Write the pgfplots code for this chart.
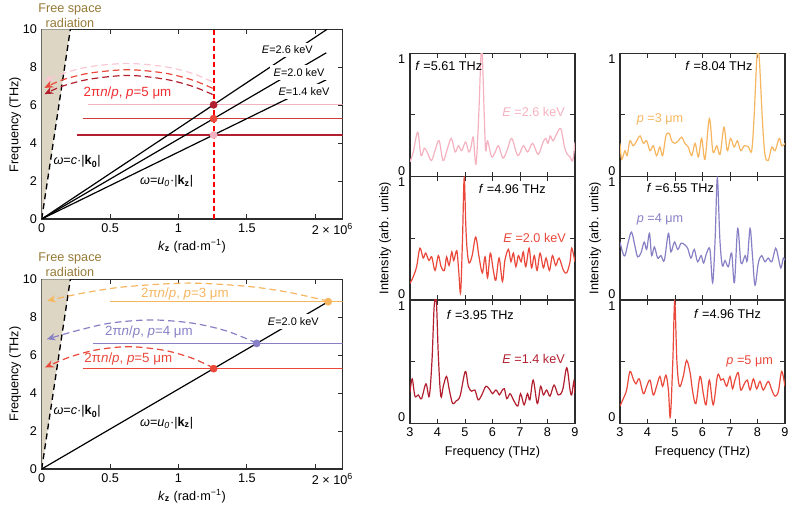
\documentclass[border=0pt]{standalone}
\usepackage{pgfplots}
\pgfplotsset{compat=1.18}
\usepackage{fontspec}
\setmainfont{Liberation Sans}
\usetikzlibrary{arrows.meta}

\definecolor{frame}{RGB}{45,45,45}
\definecolor{tanfill}{RGB}{222,214,197}
\definecolor{olivec}{RGB}{150,122,55}
\definecolor{pinkc}{RGB}{244,178,192}
\definecolor{pinkarc}{RGB}{249,200,210}
\definecolor{redc}{RGB}{234,72,58}
\definecolor{redline}{RGB}{205,62,62}
\definecolor{dredc}{RGB}{178,32,48}
\definecolor{orangec}{RGB}{246,182,96}
\definecolor{purplec}{RGB}{135,128,196}
\definecolor{vertred}{RGB}{240,45,50}

\newcommand{\fs}{\fontsize{9.5}{11.25}\selectfont}
\newcommand{\fe}{\fontsize{8.2}{10}\selectfont}
\newcommand{\fl}{\fontsize{10}{12}\selectfont}

\pgfplotsset{
  base/.style={scale only axis, anchor=south west, tick align=inside, tick pos=both,
    major tick length=3.5pt, axis line style={frame, line width=0.9pt},
    tick style={frame, line width=0.7pt},
    ticklabel style={font=\fs},
    /pgf/number format/assume math mode=true},
  disp/.style={base, width=225.75pt, height=142.275pt,
    xmin=0, xmax=2.2, ymin=0, ymax=10,
    xtick={0,0.5,1,1.5,2},
    xticklabels={0,0.5,1,1.5,{2\rlap{ × 10\textsuperscript{6}}}},
    ytick={0,2,...,10}},
  spec/.style={base, width=123.75pt, height=92.5pt,
    xmin=3, xmax=9, ymin=0, ymax=1, xtick={3,...,9},
    ytick={0,0.5}, yticklabels={0,{}},
    yticklabel style={anchor=south east, inner ysep=0.8pt},
    extra y ticks={1}, extra y tick labels={1},
    extra y tick style={yticklabel style={anchor=north east, inner ysep=0.8pt}}},
  arc/.style={line width=0.9pt, smooth, dash pattern=on 5pt off 3pt,
    -{Stealth[length=6.5pt,width=5.5pt]}},
  hl/.style={line width=0.9pt},
  dot/.style={only marks, mark=*, mark size=2.7pt},
}

\begin{document}
\begin{tikzpicture}
\path[use as bounding box] (0,0) rectangle (600pt,380.25pt);

% ---------------- top left: dispersion, three energies
\begin{axis}[disp, at={(31.275pt,216pt)}]
\addplot[fill=tanfill, draw=none] coordinates {(0,0) (0.2094,10) (0,10)} -- cycle;
\addplot[black, line width=1pt, dash pattern=on 4.5pt off 3pt] coordinates {(0,0) (0.2094,10)};
\addplot[pinkc, hl] coordinates {(0.34,6.02) (2.2,6.02)};
\addplot[redline, hl] coordinates {(0.30,5.29) (2.2,5.29)};
\addplot[dredc, hl] coordinates {(0.256,4.43) (2.2,4.43)};
\addplot[black, hl] coordinates {(0,0) (2.086,10)};
\addplot[black, hl] coordinates {(0,0) (2.08,8.76)};
\addplot[black, hl] coordinates {(0,0) (2.08,7.34)};
\addplot[red, line width=1.4pt, dash pattern=on 3.5pt off 2.5pt] coordinates {(1.2566,0) (1.2566,10)};
\addplot[pinkarc, arc] coordinates {(1.245,7.24) (1.1,7.68) (0.9,8.03) (0.63,8.2) (0.35,8.03) (0.15,7.66) (0.02,7.26)};
\addplot[redc, arc] coordinates {(1.25,6.89) (1.1,7.33) (0.9,7.69) (0.63,7.87) (0.35,7.69) (0.15,7.33) (0.02,6.91)};
\addplot[dredc, arc] coordinates {(1.25,6.56) (1.1,7.0) (0.9,7.37) (0.63,7.57) (0.35,7.37) (0.15,7.0) (0.02,6.58)};
\addplot[dredc, dot] coordinates {(1.2566,6.02)};
\addplot[redc, dot] coordinates {(1.2566,5.29)};
\addplot[pinkc, dot] coordinates {(1.2566,4.43)};
\node[fill=white, inner sep=2.5pt, font=\fe] at (axis cs:1.795,8.91) {\textit{E}=2.6 keV};
\node[fill=white, inner sep=2.5pt, font=\fe] at (axis cs:1.881,7.71) {\textit{E}=2.0 keV};
\node[fill=white, inner sep=2.5pt, font=\fe] at (axis cs:1.917,6.71) {\textit{E}=1.4 keV};
\node[text=vertred, font=\fl] at (axis cs:0.627,6.63) {2π\textit{n}/\textit{p}, \textit{p}=5 μm};
\node[anchor=west, inner sep=0pt, font=\fs] at (axis cs:0.085,3.02) {\textit{ω}=\textit{c}·|\textbf{k}\textsubscript{\textbf{0}}|};
\node[font=\fs] at (axis cs:0.913,1.97) {\textit{ω}=\textit{u}\textsubscript{\textit{0}}·|\textbf{k}\textsubscript{\textbf{z}}|};
\end{axis}

% ---------------- bottom left: dispersion, three periods
\begin{axis}[disp, at={(31.275pt,28.5pt)}]
\addplot[fill=tanfill, draw=none] coordinates {(0,0) (0.2094,10) (0,10)} -- cycle;
\addplot[black, line width=1pt, dash pattern=on 4.5pt off 3pt] coordinates {(0,0) (0.2094,10)};
\addplot[orangec, hl] coordinates {(0.50,8.82) (2.2,8.82)};
\addplot[purplec, hl] coordinates {(0.373,6.62) (2.2,6.62)};
\addplot[redc, hl] coordinates {(0.30,5.29) (2.2,5.29)};
\addplot[black, hl] coordinates {(0,0) (2.094,8.82)};
\addplot[orangec, arc] coordinates {(2.094,8.85) (1.8,9.32) (1.5,9.63) (1.067,9.8) (0.6,9.6) (0.3,9.27) (0.04,8.87)};
\addplot[purplec, arc] coordinates {(1.571,6.64) (1.35,7.28) (1.1,7.69) (0.8,7.86) (0.5,7.69) (0.25,7.28) (0.037,6.84)};
\addplot[redc, arc] coordinates {(1.257,5.32) (1.1,5.84) (0.9,6.25) (0.64,6.45) (0.4,6.28) (0.2,5.89) (0.024,5.35)};
\addplot[orangec, dot] coordinates {(2.094,8.82)};
\addplot[purplec, dot] coordinates {(1.571,6.62)};
\addplot[redc, dot] coordinates {(1.2566,5.29)};
\node[fill=white, inner sep=2.5pt, font=\fe] at (axis cs:1.839,7.77) {\textit{E}=2.0 keV};
\node[text=orangec, font=\fl] at (axis cs:1.047,9.21) {2π\textit{n}/\textit{p}, \textit{p}=3 μm};
\node[text=purplec, font=\fl] at (axis cs:0.784,7.24) {2π\textit{n}/\textit{p}, \textit{p}=4 μm};
\node[text=redc, font=\fl] at (axis cs:0.633,5.78) {2π\textit{n}/\textit{p}, \textit{p}=5 μm};
\node[anchor=west, inner sep=0pt, font=\fs] at (axis cs:0.085,3.02) {\textit{ω}=\textit{c}·|\textbf{k}\textsubscript{\textbf{0}}|};
\node[font=\fs] at (axis cs:0.913,2.41) {\textit{ω}=\textit{u}\textsubscript{\textit{0}}·|\textbf{k}\textsubscript{\textbf{z}}|};
\end{axis}

% ---------------- middle column: spectra for three energies
\begin{axis}[spec, at={(307.5pt,247.8pt)}, xticklabels={}]
\addplot[pinkc, line width=0.9pt, smooth, tension=0.55] coordinates {
(3.00,0.12) (3.12,0.2) (3.28,0.36) (3.40,0.17) (3.52,0.23) (3.62,0.20) (3.78,0.13) (3.92,0.22)
(4.06,0.29) (4.20,0.13) (4.34,0.21) (4.50,0.31) (4.64,0.20) (4.76,0.25) (4.88,0.21) (5.02,0.28)
(5.14,0.20) (5.22,0.24) (5.30,0.32) (5.40,0.10) (5.50,0.50) (5.58,0.98) (5.63,0.98) (5.70,0.50)
(5.75,0.21) (5.82,0.29) (5.97,0.16) (6.10,0.20) (6.22,0.25) (6.38,0.15) (6.54,0.22) (6.70,0.31)
(6.92,0.17) (7.12,0.25) (7.28,0.20) (7.46,0.27) (7.66,0.18) (7.84,0.28) (7.94,0.31) (8.02,0.27)
(8.10,0.33) (8.20,0.29) (8.32,0.34) (8.48,0.39) (8.62,0.24) (8.72,0.18) (8.82,0.16) (8.92,0.13) (9.00,0.28)};
\node[anchor=west, font=\fs] at (axis cs:3.02,0.9) {\textit{f} =5.61 THz};
\node[anchor=east, text=pinkc, font=\fs] at (axis cs:8.8,0.52) {\textit{E} =2.6 keV};
\end{axis}

\begin{axis}[spec, at={(307.5pt,155.25pt)}, xticklabels={}]
\addplot[redc, line width=0.9pt, smooth, tension=0.55] coordinates {
(3.00,0.135) (3.12,0.19) (3.24,0.27) (3.36,0.42) (3.48,0.34) (3.57,0.38) (3.69,0.32) (3.79,0.35)
(3.91,0.24) (4.03,0.36) (4.13,0.27) (4.25,0.24) (4.33,0.35) (4.42,0.28) (4.52,0.39) (4.59,0.32)
(4.70,0.40) (4.77,0.24) (4.84,0.06) (4.91,0.50) (4.97,0.99) (5.03,0.60) (5.08,0.40) (5.15,0.30)
(5.26,0.36) (5.39,0.51) (5.51,0.35) (5.63,0.22) (5.73,0.35) (5.82,0.18) (5.92,0.38) (6.03,0.24)
(6.12,0.16) (6.24,0.34) (6.36,0.15) (6.45,0.32) (6.58,0.41) (6.67,0.31) (6.76,0.38) (6.85,0.27)
(6.94,0.36) (7.04,0.31) (7.12,0.39) (7.21,0.27) (7.33,0.42) (7.42,0.26) (7.52,0.36) (7.62,0.24)
(7.73,0.38) (7.85,0.26) (7.95,0.34) (8.07,0.24) (8.18,0.36) (8.30,0.28) (8.42,0.34) (8.58,0.24)
(8.70,0.22) (8.82,0.31) (8.88,0.42) (9.00,0.31)};
\node[anchor=west, font=\fs] at (axis cs:5.33,0.9) {\textit{f} =4.96 THz};
\node[anchor=east, text=redc, font=\fs] at (axis cs:8.84,0.5) {\textit{E} =2.0 keV};
\end{axis}

\begin{axis}[spec, at={(307.5pt,62.775pt)}]
\addplot[dredc, line width=0.9pt, smooth, tension=0.55] coordinates {
(3.00,0.25) (3.08,0.36) (3.18,0.22) (3.30,0.23) (3.42,0.20) (3.58,0.32) (3.70,0.22) (3.80,0.51)
(3.88,0.95) (3.96,0.98) (4.03,0.55) (4.12,0.22) (4.21,0.30) (4.33,0.38) (4.43,0.27) (4.55,0.16)
(4.67,0.18) (4.82,0.22) (5.01,0.42) (5.12,0.30) (5.24,0.26) (5.36,0.27) (5.48,0.19) (5.61,0.23)
(5.76,0.30) (5.91,0.27) (6.00,0.24) (6.13,0.27) (6.25,0.23) (6.33,0.26) (6.43,0.28) (6.52,0.20)
(6.64,0.24) (6.76,0.19) (6.92,0.14) (7.02,0.24) (7.15,0.15) (7.27,0.24) (7.36,0.19) (7.48,0.35)
(7.63,0.16) (7.75,0.30) (7.85,0.23) (7.97,0.27) (8.09,0.22) (8.24,0.31) (8.39,0.23) (8.55,0.27)
(8.70,0.45) (8.82,0.27) (8.88,0.23) (8.96,0.34) (9.00,0.24)};
\node[anchor=west, font=\fs] at (axis cs:4.17,0.88) {\textit{f} =3.95 THz};
\node[anchor=east, text=dredc, font=\fs] at (axis cs:8.8,0.52) {\textit{E} =1.4 keV};
\end{axis}

% ---------------- right column: spectra for three periods
\begin{axis}[spec, at={(465pt,247.8pt)}, xticklabels={}]
\addplot[orangec, line width=0.9pt, smooth, tension=0.55] coordinates {
(3.00,0.27) (3.06,0.14) (3.18,0.21) (3.26,0.17) (3.36,0.29) (3.48,0.25) (3.61,0.29) (3.73,0.33)
(3.85,0.27) (3.97,0.29) (4.09,0.21) (4.21,0.25) (4.33,0.17) (4.45,0.24) (4.55,0.17) (4.67,0.33)
(4.79,0.35) (4.88,0.29) (5.00,0.27) (5.12,0.29) (5.24,0.32) (5.36,0.27) (5.48,0.24) (5.61,0.17)
(5.73,0.27) (5.85,0.16) (5.97,0.31) (6.09,0.14) (6.25,0.47) (6.38,0.20) (6.52,0.25) (6.64,0.18)
(6.78,0.40) (6.90,0.21) (7.02,0.31) (7.15,0.24) (7.27,0.29) (7.39,0.21) (7.52,0.25) (7.67,0.24)
(7.79,0.21) (7.88,0.50) (7.98,0.97) (8.06,0.97) (8.18,0.45) (8.27,0.18) (8.39,0.13) (8.52,0.24)
(8.64,0.21) (8.79,0.31) (8.88,0.25) (9.00,0.27)};
\node[anchor=west, font=\fs] at (axis cs:5.21,0.9) {\textit{f} =8.04 THz};
\node[anchor=west, text=orangec, font=\fs] at (axis cs:3.44,0.46) {\textit{p} =3 μm};
\end{axis}

\begin{axis}[spec, at={(465pt,155.25pt)}, xticklabels={}]
\addplot[purplec, line width=0.9pt, smooth, tension=0.55] coordinates {
(3.00,0.47) (3.09,0.39) (3.18,0.36) (3.30,0.47) (3.42,0.55) (3.55,0.43) (3.64,0.35) (3.76,0.38)
(3.88,0.47) (3.97,0.41) (4.07,0.54) (4.15,0.36) (4.25,0.43) (4.37,0.34) (4.49,0.36) (4.61,0.32)
(4.76,0.54) (4.85,0.39) (4.98,0.47) (5.10,0.41) (5.22,0.46) (5.34,0.45) (5.46,0.42) (5.58,0.34)
(5.70,0.41) (5.82,0.31) (5.95,0.36) (6.04,0.30) (6.15,0.38) (6.27,0.41) (6.37,0.14) (6.46,0.50)
(6.54,0.99) (6.63,0.50) (6.72,0.28) (6.82,0.32) (6.94,0.27) (7.06,0.38) (7.16,0.14) (7.28,0.58)
(7.40,0.30) (7.55,0.36) (7.63,0.32) (7.73,0.58) (7.82,0.35) (7.91,0.12) (8.03,0.30) (8.15,0.36)
(8.27,0.31) (8.39,0.34) (8.52,0.31) (8.66,0.42) (8.76,0.34) (8.85,0.26) (8.94,0.34) (9.00,0.32)};
\node[anchor=west, font=\fs] at (axis cs:3.81,0.91) {\textit{f} =6.55 THz};
\node[anchor=west, text=purplec, font=\fs] at (axis cs:3.44,0.65) {\textit{p} =4 μm};
\end{axis}

\begin{axis}[spec, at={(465pt,62.775pt)}]
\addplot[redc, line width=0.9pt, smooth, tension=0.55] coordinates {
(3.00,0.14) (3.12,0.20) (3.24,0.27) (3.36,0.42) (3.48,0.36) (3.58,0.32) (3.70,0.36) (3.85,0.24)
(3.97,0.30) (4.09,0.35) (4.21,0.23) (4.33,0.30) (4.45,0.38) (4.55,0.30) (4.67,0.39) (4.76,0.27)
(4.83,0.05) (4.92,0.50) (4.99,0.99) (5.07,0.50) (5.16,0.30) (5.30,0.38) (5.42,0.51) (5.55,0.41)
(5.64,0.26) (5.76,0.16) (5.91,0.38) (6.03,0.24) (6.13,0.15) (6.25,0.35) (6.39,0.15) (6.55,0.39)
(6.67,0.35) (6.76,0.36) (6.88,0.30) (7.00,0.38) (7.09,0.28) (7.18,0.35) (7.30,0.41) (7.39,0.27)
(7.52,0.32) (7.63,0.35) (7.73,0.27) (7.85,0.36) (7.97,0.28) (8.09,0.34) (8.21,0.27) (8.39,0.34)
(8.52,0.27) (8.64,0.22) (8.76,0.26) (8.88,0.42) (9.00,0.30)};
\node[anchor=west, font=\fs] at (axis cs:5.52,0.886) {\textit{f} =4.96 THz};
\node[anchor=east, text=redc, font=\fs] at (axis cs:8.73,0.5) {\textit{p} =5 μm};
\end{axis}

% ---------------- outer labels, in pixel units (y downwards)
\begin{scope}[x=0.75pt, y=-0.75pt, shift={(0pt,380.25pt)}]
\node[text=olivec, align=center, font=\fs] at (70,15.8) {Free space\\radiation};
\node[text=olivec, align=center, font=\fs] at (70,264.7) {Free space\\radiation};
\node[rotate=90, font=\fs] at (15,124.5) {Frequency (THz)};
\node[rotate=90, font=\fs] at (15,374) {Frequency (THz)};
\node[font=\fs] at (192,246) {\textit{k}\textsubscript{\textbf{z}} (rad·m\textsuperscript{−1})};
\node[font=\fs] at (192,496) {\textit{k}\textsubscript{\textbf{z}} (rad·m\textsuperscript{−1})};
\node[rotate=90, font=\fs] at (385,238) {Intensity (arb. units)};
\node[rotate=90, font=\fs] at (595,238) {Intensity (arb. units)};
\node[font=\fs] at (492.5,452) {Frequency (THz)};
\node[font=\fs] at (702.5,452) {Frequency (THz)};
\end{scope}
\end{tikzpicture}
\end{document}
